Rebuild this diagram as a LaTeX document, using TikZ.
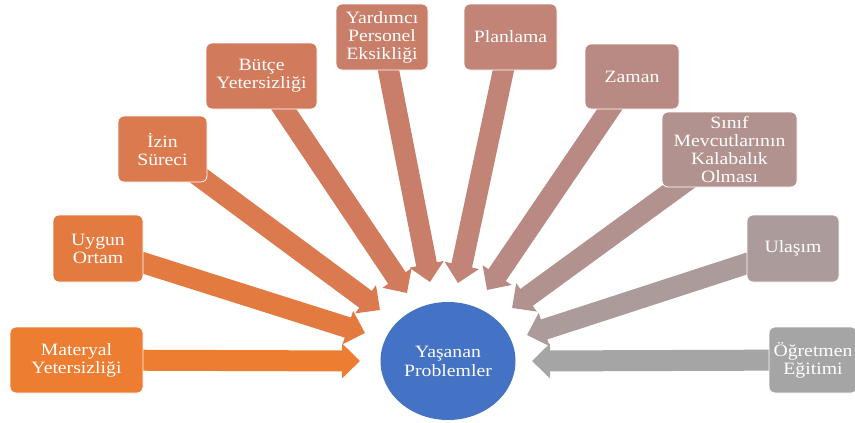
\documentclass[tikz,border=0pt]{standalone}
\usepackage{fontspec}
\setmainfont{Liberation Serif}[FakeStretch=1.14]
\usetikzlibrary{arrows.meta,shapes.geometric}
\pgfdeclarelayer{bg}
\pgfsetlayers{bg,main}
\definecolor{c0}{RGB}{237,125,49}
\definecolor{c1}{RGB}{227,122,63}
\definecolor{c2}{RGB}{218,122,78}
\definecolor{c3}{RGB}{209,123,92}
\definecolor{c4}{RGB}{201,126,105}
\definecolor{c5}{RGB}{193,132,118}
\definecolor{c6}{RGB}{185,138,131}
\definecolor{c7}{RGB}{178,146,143}
\definecolor{c8}{RGB}{172,155,155}
\definecolor{c9}{RGB}{165,165,165}
\definecolor{hubblue}{RGB}{68,114,196}
\tikzset{
  box/.style={draw=white, line width=0.8pt, rounded corners=6pt, inner sep=0pt,
    align=center, text=white, font=\fontsize{17.3pt}{18pt}\selectfont},
  arr/.style={line width=21pt, -{Triangle[width=34pt,length=18pt]}},
}
\begin{document}
\begin{tikzpicture}[x=1pt,y=-1pt]
\useasboundingbox (0,0) rectangle (855,423);
\node[box, fill=c0, minimum width=133pt, minimum height=66pt] (b0) at (76.5,360) {Materyal\\Yetersizliği};
\node[box, fill=c1, minimum width=90pt, minimum height=67pt] (b1) at (98,248.5) {Uygun\\Ortam};
\node[box, fill=c2, minimum width=89pt, minimum height=66pt] (b2) at (162.5,149) {İzin\\Süreci};
\node[box, fill=c3, minimum width=111pt, minimum height=66pt] (b3) at (261.5,76) {Bütçe\\Yetersizliği};
\node[box, fill=c4, minimum width=92pt, minimum height=66pt] (b4) at (382,37) {Yardımcı\\Personel\\Eksikliği};
\node[box, fill=c5, minimum width=93pt, minimum height=66pt] (b5) at (510.5,37) {Planlama};
\node[box, fill=c6, minimum width=94pt, minimum height=65pt] (b6) at (632,76.5) {Zaman};
\node[box, fill=c7, minimum width=135pt, minimum height=75pt] (b7) at (729.5,149.5) {Sınıf\\Mevcutlarının\\Kalabalık\\Olması};
\node[box, fill=c8, minimum width=92pt, minimum height=67pt] (b8) at (793,248.5) {Ulaşım};
\node[box, fill=c9, minimum width=88pt, minimum height=66pt] (b9) at (813,360) {Öğretmen\\Eğitimi};
\node[ellipse, fill=hubblue, minimum width=135pt, minimum height=118pt, inner sep=0pt,
  align=center, text=white, font=\fontsize{17.3pt}{19pt}\selectfont] (hub) at (448,361) {Yaşanan\\Problemler};
\coordinate (t0) at (360,361);
\coordinate (t1) at (365,333);
\coordinate (t2) at (380,310);
\coordinate (t3) at (407,293);
\coordinate (t4) at (430,282);
\coordinate (t5) at (458,283);
\coordinate (t6) at (487,290);
\coordinate (t7) at (512,308);
\coordinate (t8) at (527,335);
\coordinate (t9) at (532,361);
\begin{pgfonlayer}{bg}
\draw[arr, c0] (b0.center) -- (t0);
\draw[arr, c1] (b1.center) -- (t1);
\draw[arr, c2] (b2.center) -- (t2);
\draw[arr, c3] (b3.center) -- (t3);
\draw[arr, c4] (b4.center) -- (t4);
\draw[arr, c5] (b5.center) -- (t5);
\draw[arr, c6] (b6.center) -- (t6);
\draw[arr, c7] (b7.center) -- (t7);
\draw[arr, c8] (b8.center) -- (t8);
\draw[arr, c9] (b9.center) -- (t9);
\end{pgfonlayer}
\end{tikzpicture}
\end{document}
